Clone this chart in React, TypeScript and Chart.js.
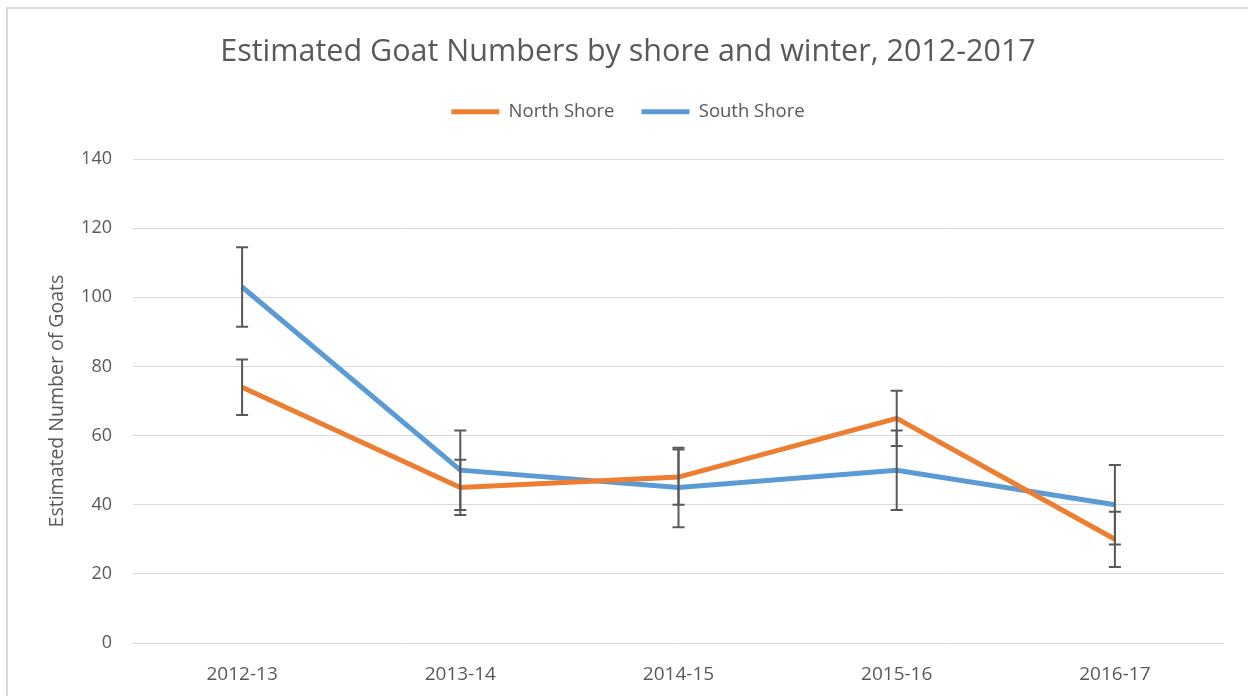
import React, { useEffect, useRef } from "react";
import { Chart, registerables } from "chart.js";

Chart.register(...registerables);

const categories = ["2012-13", "2013-14", "2014-15", "2015-16", "2016-17"];
const northShore = [74, 45, 48, 65, 30];
const southShore = [103, 50, 45, 50, 40];
const northErr = [8, 8, 8, 8, 8];
const southErr = [11.5, 11.5, 11.5, 11.5, 11.5];
const yTicks = [0, 20, 40, 60, 80, 100, 120, 140];

const FONT = "'Open Sans', sans-serif";
const TEXT = "#595959";

const errorBarPlugin = {
  id: "errorBars",
  afterDatasetsDraw(chart: any) {
    const ctx = chart.ctx;
    const x = chart.scales.x;
    const y = chart.scales.y;
    const errs = [northErr, southErr];
    ctx.save();
    ctx.strokeStyle = "#595959";
    ctx.lineWidth = 2;
    chart.data.datasets.forEach((ds: any, di: number) => {
      ds.data.forEach((v: number, i: number) => {
        const e = errs[di][i];
        const px = x.getPixelForValue(i);
        const top = y.getPixelForValue(v + e);
        const bot = y.getPixelForValue(v - e);
        ctx.beginPath();
        ctx.moveTo(px, top);
        ctx.lineTo(px, bot);
        ctx.moveTo(px - 6, top);
        ctx.lineTo(px + 6, top);
        ctx.moveTo(px - 6, bot);
        ctx.lineTo(px + 6, bot);
        ctx.stroke();
      });
    });
    ctx.restore();
  },
};

const framePlugin = {
  id: "frame",
  beforeDraw(chart: any) {
    const ctx = chart.ctx;
    ctx.save();
    ctx.fillStyle = "#ffffff";
    ctx.fillRect(0, 0, chart.width, chart.height);
    ctx.strokeStyle = "#d9d9d9";
    ctx.lineWidth = 2;
    ctx.beginPath();
    ctx.moveTo(7, chart.height);
    ctx.lineTo(7, 8);
    ctx.lineTo(chart.width, 8);
    ctx.stroke();
    ctx.restore();
  },
};

export default function App() {
  const ref = useRef<HTMLCanvasElement | null>(null);
  useEffect(() => {
    if (!ref.current) return;
    const chart = new Chart(ref.current, {
      type: "line",
      data: {
        labels: categories,
        datasets: [
          {
            label: "North Shore",
            data: northShore,
            borderColor: "#ED7D31",
            backgroundColor: "#ED7D31",
            borderWidth: 5,
            pointRadius: 0,
            tension: 0,
          },
          {
            label: "South Shore",
            data: southShore,
            borderColor: "#5B9BD5",
            backgroundColor: "#5B9BD5",
            borderWidth: 5,
            pointRadius: 0,
            tension: 0,
          },
        ],
      },
      options: {
        animation: false,
        responsive: true,
        maintainAspectRatio: false,
        layout: { padding: { top: 20, left: 32, right: 24, bottom: 0 } },
        plugins: {
          title: {
            display: true,
            text: "Estimated Goat Numbers by shore and winter, 2012-2017",
            color: TEXT,
            font: { family: FONT, size: 30.5, weight: "normal", lineHeight: 1.2 },
            padding: { top: 14, bottom: 5 },
          },
          legend: {
            display: true,
            position: "top",
            labels: {
              usePointStyle: true,
              pointStyle: "line",
              pointStyleWidth: 48,
              color: TEXT,
              font: { family: FONT, size: 18.5 },
              padding: 27,
            },
          },
          subtitle: {
            display: true,
            text: " ",
            weight: 500,
            position: "top",
            font: { size: 10, lineHeight: 1 },
            padding: { top: 18, bottom: 0 },
          } as any,
          tooltip: { enabled: false },
        },
        scales: {
          x: {
            offset: true,
            grid: { display: false },
            border: { display: false },
            ticks: {
              color: TEXT,
              font: { family: FONT, size: 19 },
              padding: 12,
            },
            afterFit(scale: any) {
              scale.height = 53;
            },
          },
          y: {
            min: 0,
            max: 140,
            afterBuildTicks(scale: any) {
              scale.ticks = yTicks.map((v) => ({ value: v }));
            },
            grid: { color: "#d9d9d9", lineWidth: 1, drawTicks: false },
            border: { display: false },
            ticks: {
              color: TEXT,
              font: { family: FONT, size: 18 },
              padding: 21,
            },
            title: {
              display: true,
              text: "Estimated Number of Goats",
              color: TEXT,
              font: { family: FONT, size: 19.5 },
              padding: { top: 14, bottom: 0 },
            },
            afterFit(scale: any) {
              scale.width = 101;
            },
          },
        },
      },
      plugins: [framePlugin, errorBarPlugin],
    });
    return () => chart.destroy();
  }, []);
  return (
    <div style={{ position: "absolute", left: 0, top: 0, width: 1248, height: 696 }}>
      <canvas ref={ref} />
    </div>
  );
}
